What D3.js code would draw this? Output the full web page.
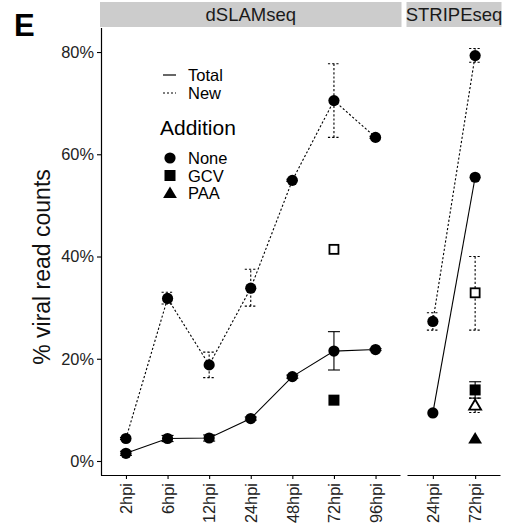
<!DOCTYPE html>
<html>
<head>
<meta charset="utf-8">
<script src="https://cdn.jsdelivr.net/npm/d3@7"></script>
<style>
  body { margin: 0; background: #fff; }
  svg { display: block; font-family: "Liberation Sans", Arial, sans-serif; }
</style>
</head>
<body>
<div id="chart"></div>
<script>
// categories
var dslamTimes = ["2hpi", "6hpi", "12hpi", "24hpi", "48hpi", "72hpi", "96hpi"];
var stripeTimes = ["24hpi", "72hpi"];
var yTicks = [0, 20, 40, 60, 80];

// dSLAMseq, no addition
var dslamTotal = [1.5, 4.4, 4.5, 8.3, 16.5, 21.5, 21.8];
var dslamTotalErr = [[1.1, 1.9], [3.8, 5.0], [3.9, 5.1], [8.0, 8.6], [16.2, 16.8], [17.8, 25.3], [21.6, 22.0]];
var dslamNew = [4.4, 31.8, 18.8, 33.8, 54.9, 70.5, 63.3];
var dslamNewErr = [[4.2, 4.6], [30.7, 33.0], [16.3, 21.3], [30.3, 37.5], [54.7, 55.1], [63.3, 77.7], [63.1, 63.5]];

// STRIPEseq, no addition
var stripeTotal = [9.4, 55.5];
var stripeNew = [27.3, 79.3];
var stripeNewErr = [[25.6, 29.0], [78.0, 80.7]];

// drug additions (single time point): [panel, time, type, addition, value, lo, hi]
var additionPoints = [
  ["dSLAMseq", "72hpi", "Total", "GCV", 11.9, 11.9, 11.9],
  ["dSLAMseq", "72hpi", "New", "GCV", 41.4, 41.4, 41.4],
  ["STRIPEseq", "72hpi", "Total", "GCV", 13.9, 12.3, 15.5],
  ["STRIPEseq", "72hpi", "New", "GCV", 32.9, 25.6, 40.0],
  ["STRIPEseq", "72hpi", "Total", "PAA", 4.4, 4.4, 4.4],
  ["STRIPEseq", "72hpi", "New", "PAA", 10.9, 9.5, 12.3]
];

var width = 506, height = 525;
var plotTop = 28, plotBottom = 475;

var svg = d3.select("#chart").append("svg")
  .attr("width", width)
  .attr("height", height);

var y = d3.scaleLinear().domain([-2.74, 84.7]).range([plotBottom, plotTop]);

var panels = [
  { name: "dSLAMseq", times: dslamTimes, x0: 101, x1: 400.5,
    total: dslamTotal, totalErr: dslamTotalErr, nw: dslamNew, nwErr: dslamNewErr },
  { name: "STRIPEseq", times: stripeTimes, x0: 407.5, x1: 500.5,
    total: stripeTotal, totalErr: null, nw: stripeNew, nwErr: stripeNewErr }
];

var dash = "2.2,2";

function shape(g, addition, open, cx, cy) {
  var fill = open ? "#fff" : "#000";
  var sw = open ? 1.8 : 0;
  if (addition === "None") {
    g.append("circle").attr("cx", cx).attr("cy", cy).attr("r", 5.6)
      .attr("fill", fill).attr("stroke", "#000").attr("stroke-width", sw);
  } else if (addition === "GCV") {
    var s = open ? 9 : 11;
    g.append("rect").attr("x", cx - s / 2).attr("y", cy - s / 2)
      .attr("width", s).attr("height", s)
      .attr("fill", fill).attr("stroke", "#000").attr("stroke-width", sw);
  } else {
    var h = open ? 5.2 : 6;
    g.append("path")
      .attr("d", "M" + cx + "," + (cy - h * 1.1) + "L" + (cx + h * 1.15) + "," + (cy + h * 0.85) +
        "L" + (cx - h * 1.15) + "," + (cy + h * 0.85) + "Z")
      .attr("fill", fill).attr("stroke", "#000").attr("stroke-width", sw);
  }
}

function errbar(g, cx, lo, hi, dotted) {
  var e = g.append("g").attr("stroke", "#000").attr("stroke-width", 1.1)
    .attr("stroke-dasharray", dotted ? dash : null);
  e.append("line").attr("x1", cx).attr("x2", cx).attr("y1", y(lo)).attr("y2", y(hi));
  e.append("line").attr("x1", cx - 6).attr("x2", cx + 6).attr("y1", y(lo)).attr("y2", y(lo));
  e.append("line").attr("x1", cx - 6).attr("x2", cx + 6).attr("y1", y(hi)).attr("y2", y(hi));
}

panels.forEach(function (p) {
  var x = d3.scalePoint().domain(p.times).range([p.x0, p.x1]).padding(0.6);
  var g = svg.append("g");

  // strip
  g.append("rect").attr("x", p.x0 - 1).attr("y", 2).attr("width", p.x1 - p.x0 + 2).attr("height", 25)
    .attr("fill", "#cccccc");
  g.append("text").attr("x", (p.x0 + p.x1) / 2).attr("y", 21)
    .attr("text-anchor", "middle").attr("font-size", 18.5).attr("fill", "#1a1a1a").text(p.name);

  // x axis
  var xa = g.append("g").attr("transform", "translate(0," + plotBottom + ")")
    .call(d3.axisBottom(x).tickSize(4).tickSizeOuter(0));
  xa.select(".domain").attr("stroke-width", 1.2)
    .attr("d", "M" + p.x0 + ",0.5H" + p.x1);
  xa.selectAll(".tick line").attr("stroke-width", 1.1);
  xa.selectAll(".tick text")
    .attr("font-size", 16.4).attr("fill", "#222")
    .attr("font-family", "Liberation Sans, Arial, sans-serif")
    .attr("text-anchor", "end")
    .attr("transform", "rotate(-90)")
    .attr("x", -8).attr("y", 0).attr("dy", "0.35em");

  var pts = p.times.map(function (t, i) { return [x(t), i]; });
  var line = d3.line().x(function (d) { return d[0]; });

  // error bars
  p.nwErr.forEach(function (e, i) { errbar(g, x(p.times[i]), e[0], e[1], true); });
  if (p.totalErr) p.totalErr.forEach(function (e, i) { errbar(g, x(p.times[i]), e[0], e[1], false); });

  // lines
  g.append("path").attr("fill", "none").attr("stroke", "#000").attr("stroke-width", 1.1)
    .attr("stroke-dasharray", dash)
    .attr("d", line.y(function (d) { return y(p.nw[d[1]]); })(pts));
  g.append("path").attr("fill", "none").attr("stroke", "#000").attr("stroke-width", 1.1)
    .attr("d", line.y(function (d) { return y(p.total[d[1]]); })(pts));

  // points
  p.times.forEach(function (t, i) {
    shape(g, "None", false, x(t), y(p.nw[i]));
    shape(g, "None", false, x(t), y(p.total[i]));
  });

  additionPoints.filter(function (d) { return d[0] === p.name; }).forEach(function (d) {
    var cx = x(d[1]);
    if (d[6] > d[5]) errbar(g, cx, d[5], d[6], d[2] === "New");
    shape(g, d[3], d[2] === "New", cx, y(d[4]));
  });
});

// y axis
var ya = svg.append("g").attr("transform", "translate(101,0)")
  .call(d3.axisLeft(y).tickValues(yTicks).tickSize(4).tickSizeOuter(0)
    .tickFormat(function (d) { return d + "%"; }));
ya.select(".domain").attr("stroke-width", 1.2).attr("d", "M0.5," + plotTop + "V" + (plotBottom + 0.5));
ya.selectAll(".tick line").attr("stroke-width", 1.1);
ya.selectAll(".tick text").attr("font-size", 16.4).attr("fill", "#222")
  .attr("font-family", "Liberation Sans, Arial, sans-serif").attr("x", -7);

svg.append("text")
  .attr("transform", "translate(50,267) rotate(-90)")
  .attr("text-anchor", "middle").attr("font-size", 23).attr("fill", "#111")
  .text("% viral read counts");

// panel letter
svg.append("text").attr("x", 14).attr("y", 36)
  .attr("font-size", 31).attr("font-weight", "bold").text("E");

// legend
var leg = svg.append("g");
var lineTypes = [["Total", null], ["New", "2,2"]];
lineTypes.forEach(function (d, i) {
  var ly = 75 + i * 18;
  leg.append("line").attr("x1", 163).attr("x2", 176).attr("y1", ly).attr("y2", ly)
    .attr("stroke", "#000").attr("stroke-width", 1.2).attr("stroke-dasharray", d[1]);
  leg.append("text").attr("x", 188).attr("y", ly + 6).attr("font-size", 16.5).text(d[0]);
});
leg.append("text").attr("x", 160).attr("y", 135).attr("font-size", 21).text("Addition");
["None", "GCV", "PAA"].forEach(function (a, i) {
  var ly = 158 + i * 17.5;
  shape(leg, a, false, 170, ly);
  leg.append("text").attr("x", 188).attr("y", ly + 6).attr("font-size", 16.5).text(a);
});
</script>
</body>
</html>
